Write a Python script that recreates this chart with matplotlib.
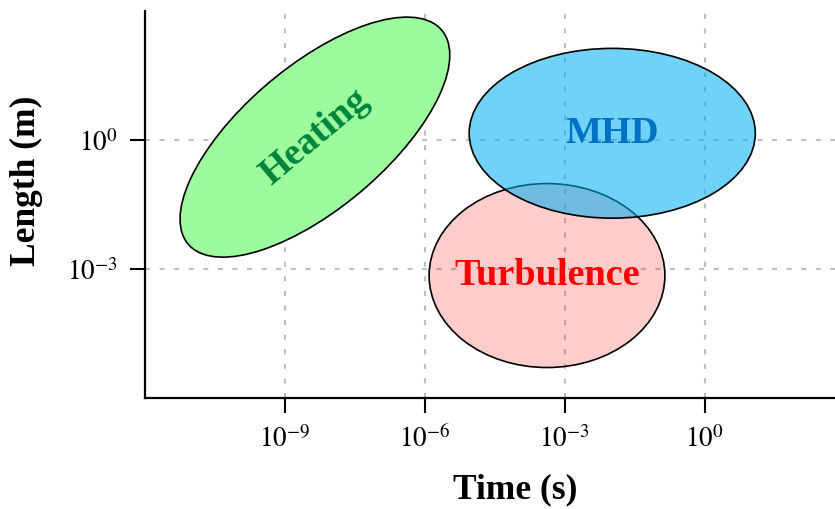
import matplotlib

matplotlib.use("Agg")
from matplotlib import pyplot as plt  # noqa: E402
from matplotlib.patches import Ellipse  # noqa: E402
from matplotlib.ticker import FixedLocator, FuncFormatter  # noqa: E402

plt.rcParams["font.family"] = ["Liberation Serif", "DejaVu Serif"]
plt.rcParams["mathtext.fontset"] = "stix"

# regimes in log10 space: centre (time, length), extent in decades, tilt
regimes = ["Turbulence", "MHD", "Heating"]
log_time_centre = [-3.38, -1.98, -8.36]
log_length_centre = [-3.15, 0.16, 0.07]
width_decades = [5.06, 6.14, 7.38]
height_decades = [4.28, 3.95, 3.20]
tilt_deg = [0.0, 0.0, 43.5]

time_ticks = [-9, -6, -3, 0]
length_ticks = [-3, 0]

face_colors = ["#ff0000", "#00b0f0", "#9cfb9c"]
face_alphas = [0.2, 0.56, 1.0]
text_colors = ["#ff0000", "#0071c5", "#00833d"]
text_rotation = [0, 0, 40]

fig = plt.figure(figsize=(8.35, 5.09), dpi=100)
ax = fig.add_axes([0.174, 0.218, 0.826, 0.760])

for i, name in enumerate(regimes):
    patch = Ellipse(
        (log_time_centre[i], log_length_centre[i]),
        width_decades[i],
        height_decades[i],
        angle=tilt_deg[i],
        facecolor=matplotlib.colors.to_rgba(face_colors[i], face_alphas[i]),
        edgecolor="black",
        linewidth=1.2,
        zorder=2,
    )
    ax.add_patch(patch)
    ax.text(
        log_time_centre[i],
        log_length_centre[i],
        name,
        color=text_colors[i],
        fontsize=27.5,
        fontweight="bold",
        rotation=text_rotation[i],
        ha="center",
        va="center",
        rotation_mode="anchor",
        zorder=3,
    )

ax.set_xlim(-12, 2.8)
ax.set_ylim(-6, 3)
ax.xaxis.set_major_locator(FixedLocator(time_ticks))
ax.yaxis.set_major_locator(FixedLocator(length_ticks))
power = FuncFormatter(lambda v, _: r"$10^{%d}$" % round(v))
ax.xaxis.set_major_formatter(power)
ax.yaxis.set_major_formatter(power)
ax.tick_params(length=11, width=1.5, labelsize=19.5, pad=9)

ax.grid(True, color="#bebebe", linewidth=1.5, linestyle=(0, (2.4, 4.6)), zorder=0)
ax.set_axisbelow(True)
for side in ("top", "right"):
    ax.spines[side].set_visible(False)
for side in ("left", "bottom"):
    ax.spines[side].set_linewidth(1.6)

ax.set_xlabel("Time (s)", fontsize=25.5, fontweight="bold")
ax.set_ylabel("Length (m)", fontsize=25.5, fontweight="bold")
ax.xaxis.set_label_coords(0.536, -0.195)
ax.yaxis.set_label_coords(-0.149, 0.561)

fig.savefig("out.png", dpi=100)
